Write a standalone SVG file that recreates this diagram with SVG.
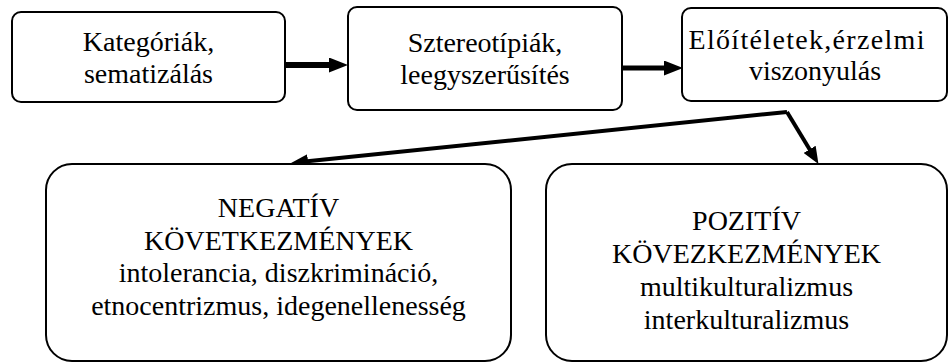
<svg xmlns="http://www.w3.org/2000/svg" width="949" height="362" viewBox="0 0 949 362">
<style>
.box{fill:#fff;stroke:#000;stroke-width:2}
.t{font-family:'Liberation Serif','Times New Roman',serif;font-size:28px;fill:#000;text-anchor:middle}
.c{fill:none;stroke:#000;stroke-linecap:butt}
</style>
<defs>
<marker id="ah" markerUnits="userSpaceOnUse" markerWidth="19" markerHeight="15" refX="9" refY="7.5" orient="auto"><path d="M0,0 L19,7.5 L0,15 z" fill="#000"/></marker>
<marker id="ah2" markerUnits="userSpaceOnUse" markerWidth="17" markerHeight="14" refX="8" refY="7" orient="auto"><path d="M0,0 L17,7 L0,14 z" fill="#000"/></marker>
</defs>
<rect width="949" height="362" fill="#fff"/>
<g id="connectors">
<path class="c" d="M286,65 L338,65" stroke-width="6" marker-end="url(#ah)"/>
<path class="c" d="M622,68 L673,68" stroke-width="5" marker-end="url(#ah)"/>
<path class="c" d="M787,112 L300,162" stroke-width="4" marker-end="url(#ah2)"/>
<path class="c" d="M787,112 L813.8,156.2" stroke-width="4" marker-end="url(#ah2)"/>
</g>
<g id="n1">
<rect class="box" x="12" y="12" width="273" height="90" rx="9"/>
<text class="t" x="148.5" y="51">Kategóriák,</text>
<text class="t" x="148.5" y="83">sematizálás</text>
</g>
<g id="n2">
<rect class="box" x="348" y="7" width="274" height="103" rx="9"/>
<text class="t" x="485" y="52">Sztereotípiák,</text>
<text class="t" x="485" y="84">leegyszerűsítés</text>
</g>
<g id="n3">
<rect class="box" x="682" y="8" width="265" height="93" rx="9"/>
<text class="t" x="806.5" y="49" textLength="236" lengthAdjust="spacing">Előítéletek,érzelmi</text>
<text class="t" x="815" y="80">viszonyulás</text>
</g>
<g id="n4">
<rect class="box" x="46" y="164" width="465" height="197" rx="26"/>
<text class="t" x="278.5" y="217">NEGATÍV</text>
<text class="t" x="278.5" y="250">KÖVETKEZMÉNYEK</text>
<text class="t" x="278.5" y="282">intolerancia, diszkrimináció,</text>
<text class="t" x="278.5" y="315">etnocentrizmus, idegenellenesség</text>
</g>
<g id="n5">
<rect class="box" x="546" y="164" width="401" height="197" rx="26"/>
<text class="t" x="746.5" y="230">POZITÍV</text>
<text class="t" x="746.5" y="263">KÖVEZKEZMÉNYEK</text>
<text class="t" x="746.5" y="296">multikulturalizmus</text>
<text class="t" x="746.5" y="329">interkulturalizmus</text>
</g>
</svg>
